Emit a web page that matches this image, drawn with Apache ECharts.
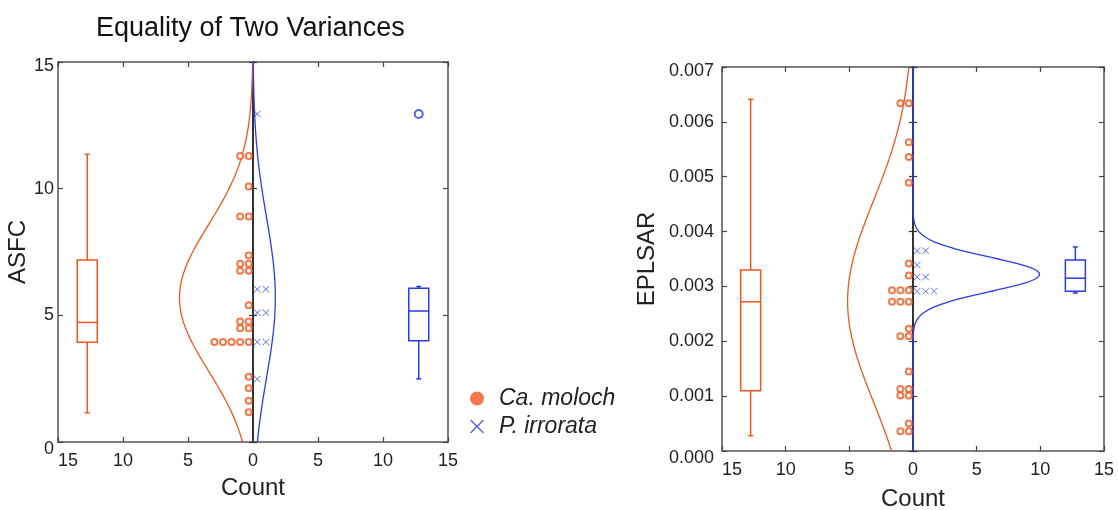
<!DOCTYPE html>
<html><head><meta charset="utf-8">
<script src="https://cdn.jsdelivr.net/npm/echarts@6/dist/echarts.min.js"></script>
<style>html,body{margin:0;padding:0;background:#fff}#c{width:1118px;height:510px}</style>
</head><body><div id="c"></div>
<script>
// ---------------- data ----------------
const seriesNames = ['Ca. moloch', 'P. irrorata'];
const titleText = 'Equality of Two Variances';
const countTicks = [-15, -10, -5, 0, 5, 10, 15];

// ASFC panel
const asfcMoloch = [11.29, 11.29, 10.09, 8.90, 8.90, 7.36, 7.04, 7.04, 6.76, 6.76, 5.40, 4.76, 4.76, 4.49, 4.49,
  3.95, 3.95, 3.95, 3.95, 3.95, 2.58, 2.12, 1.63, 1.17];
const asfcIrrorata = [12.95, 6.03, 6.03, 5.10, 5.10, 3.95, 3.95, 2.49];
// box: [whiskerLow, q1, median, q3, whiskerHigh]
const asfcBoxMoloch = [1.15, 3.94, 4.72, 7.18, 11.36];
const asfcBoxIrrorata = [2.49, 4.00, 5.17, 6.07, 6.14];
const asfcOutliersIrrorata = [12.95];
const asfcTicks = [0, 5, 10, 15];

// EPLSAR panel
const eplsarMoloch = [0.00634, 0.00634, 0.00563, 0.00536, 0.00489, 0.00342, 0.00320, 0.00293, 0.00293, 0.00293,
  0.00272, 0.00272, 0.00272, 0.00223, 0.00209, 0.00209, 0.00145, 0.00113, 0.00113, 0.00101, 0.00101,
  0.00050, 0.00036, 0.00036];
const eplsarIrrorata = [0.00365, 0.00365, 0.00339, 0.00317, 0.00317, 0.00291, 0.00291, 0.00291];
const eplsarBoxMoloch = [0.00028, 0.00110, 0.00272, 0.00330, 0.00641];
const eplsarBoxIrrorata = [0.00288, 0.00291, 0.00315, 0.00348, 0.00372];
const eplsarTicks = [0, 0.001, 0.002, 0.003, 0.004, 0.005, 0.006, 0.007];

// ---------------- style / layout ----------------
const ORANGE = '#F2561E';
const BLUE = '#2B3BEE';
const FONT = "'Liberation Sans', Arial, sans-serif";
const BOX_X = 12.75;         // count position of the box plots
const DOT_FIRST = 0.33, DOT_STEP = 0.66;
const BIN_ASFC = 1.7, BIN_EPLSAR = 0.00098;  // histogram bin widths used for the fitted curves
const XPATH = 'path://M0 0.7L0.7 0L5 4.3L9.3 0L10 0.7L5.7 5L10 9.3L9.3 10L5 5.7L0.7 10L0 9.3L4.3 5Z';

function stack(values, dir) {
  const seen = {};
  return values.map(v => {
    const k = String(v);
    const i = seen[k] || 0;
    seen[k] = i + 1;
    return [dir * (DOT_FIRST + DOT_STEP * i), v];
  });
}
function meanSd(a) {
  const m = a.reduce((s, v) => s + v, 0) / a.length;
  const s = Math.sqrt(a.reduce((t, v) => t + (v - m) * (v - m), 0) / (a.length - 1));
  return [m, s];
}
function normalCurve(values, bin, dir, ymax) {
  const [m, s] = meanSd(values);
  const n = values.length, pts = [], steps = 300;
  for (let i = 0; i <= steps; i++) {
    const y = ymax * i / steps;
    const z = (y - m) / s;
    pts.push([dir * n * bin * Math.exp(-z * z / 2) / (s * Math.sqrt(2 * Math.PI)), y]);
  }
  return pts;
}
function boxRender(color) {
  return function (params, api) {
    const x = api.value(0);
    const lo = api.coord([x, api.value(1)]), q1 = api.coord([x, api.value(2)]),
      md = api.coord([x, api.value(3)]), q3 = api.coord([x, api.value(4)]), hi = api.coord([x, api.value(5)]);
    const cx = lo[0], hw = 10, cap = 2.5;
    const st = { stroke: color, lineWidth: 1.5, fill: null };
    return {
      type: 'group', children: [
        { type: 'line', shape: { x1: cx, y1: hi[1], x2: cx, y2: q3[1] }, style: st },
        { type: 'line', shape: { x1: cx, y1: q1[1], x2: cx, y2: lo[1] }, style: st },
        { type: 'line', shape: { x1: cx - cap, y1: hi[1], x2: cx + cap, y2: hi[1] }, style: st },
        { type: 'line', shape: { x1: cx - cap, y1: lo[1], x2: cx + cap, y2: lo[1] }, style: st },
        { type: 'rect', shape: { x: cx - hw, y: q3[1], width: 2 * hw, height: q1[1] - q3[1] },
          style: { stroke: color, lineWidth: 1.5, fill: '#fff' } },
        { type: 'line', shape: { x1: cx - hw, y1: md[1], x2: cx + hw, y2: md[1] }, style: st }
      ]
    };
  };
}

const axisLine = { lineStyle: { color: '#555', width: 1.5 } };
const tickIn = { show: true, inside: true, length: 5, lineStyle: { color: '#444', width: 1.2 } };
const labelStyle = { fontSize: 18, color: '#222', fontFamily: FONT };
const richEnds = {
  lo: { fontSize: 18, color: '#222', fontFamily: FONT, padding: [14, 0, 0, 0] },
  hi: { fontSize: 18, color: '#222', fontFamily: FONT, padding: [8, 0, 0, 0] }
};

function xAxes(gi, nameGap) {
  return [
    { gridIndex: gi, type: 'value', position: 'bottom', min: countTicks[0], max: countTicks[countTicks.length - 1],
      interval: countTicks[1] - countTicks[0],
      axisLine: Object.assign({ onZero: false }, axisLine), axisTick: tickIn, splitLine: { show: false },
      axisLabel: Object.assign({ margin: 10, alignMinLabel: 'left', formatter: v => String(Math.abs(v)) }, labelStyle),
      name: 'Count', nameLocation: 'middle', nameGap: nameGap,
      nameTextStyle: { fontSize: 24, color: '#222', fontFamily: FONT } },
    { gridIndex: gi, type: 'value', position: 'top', min: countTicks[0], max: countTicks[countTicks.length - 1],
      interval: countTicks[1] - countTicks[0],
      axisLine: Object.assign({ onZero: false }, axisLine), axisTick: tickIn, axisLabel: { show: false },
      splitLine: { show: false } }
  ];
}
function yAxes(gi, ticks, name, nameGap, fmt, margin) {
  const min = ticks[0], max = ticks[ticks.length - 1];
  const base = { gridIndex: gi, type: 'value', min: min, max: max, interval: ticks[1] - ticks[0], splitLine: { show: false } };
  const f = v => {
    const t = fmt(v);
    if (Math.abs(v - min) < 1e-12) return '{lo|' + t + '}';
    if (Math.abs(v - max) < 1e-12) return '{hi|' + t + '}';
    return t;
  };
  return [
    Object.assign({}, base, { position: 'left', axisLine: Object.assign({ onZero: false }, axisLine), axisTick: tickIn,
      axisLabel: Object.assign({ margin: margin, formatter: f, rich: richEnds }, labelStyle),
      name: name, nameLocation: 'middle', nameGap: nameGap,
      nameTextStyle: { fontSize: 24, color: '#222', fontFamily: FONT } }),
    Object.assign({}, base, { position: 'right', axisLine: Object.assign({ onZero: false }, axisLine), axisTick: tickIn,
      axisLabel: { show: false } }),
    Object.assign({}, base, { position: 'left', axisLine: { onZero: true, onZeroAxisIndex: gi * 2, lineStyle: { color: '#333', width: 2 } },
      axisTick: { show: true, inside: true, length: 4, lineStyle: { color: '#333', width: 1.2 } }, axisLabel: { show: false } }),
    Object.assign({}, base, { position: 'left', axisLine: { onZero: true, onZeroAxisIndex: gi * 2, lineStyle: { color: '#333', width: 2 } },
      axisTick: { show: true, inside: false, length: 4, lineStyle: { color: '#333', width: 1.2 } }, axisLabel: { show: false } })
  ];
}

function panelSeries(gi, moloch, irrorata, boxM, boxI, outliers, bin, ymax) {
  const xi = gi * 2, yi = gi * 4;
  const s = [
    { type: 'line', name: 'curveM' + gi, xAxisIndex: xi, yAxisIndex: yi, data: normalCurve(moloch, bin, -1, ymax),
      showSymbol: false, symbol: 'none', lineStyle: { color: ORANGE, width: 1.3 }, z: 3, silent: true },
    { type: 'line', name: 'curveI' + gi, xAxisIndex: xi, yAxisIndex: yi, data: normalCurve(irrorata, bin, 1, ymax),
      showSymbol: false, symbol: 'none', lineStyle: { color: BLUE, width: 1.3 }, z: 3, silent: true },
    { type: 'scatter', name: seriesNames[0], xAxisIndex: xi, yAxisIndex: yi, data: stack(moloch, -1),
      symbol: 'emptyCircle', symbolSize: 6, itemStyle: { color: ORANGE, borderWidth: 1.3 }, z: 4 },
    { type: 'scatter', name: seriesNames[1], xAxisIndex: xi, yAxisIndex: yi, data: stack(irrorata, 1),
      symbol: XPATH, symbolSize: 7, itemStyle: { color: BLUE }, z: 4 },
    { type: 'custom', name: 'boxM' + gi, xAxisIndex: xi, yAxisIndex: yi, renderItem: boxRender(ORANGE),
      data: [[-BOX_X].concat(boxM)], encode: { x: 0, y: [1, 2, 3, 4, 5] }, z: 4, silent: true },
    { type: 'custom', name: 'boxI' + gi, xAxisIndex: xi, yAxisIndex: yi, renderItem: boxRender(BLUE),
      data: [[BOX_X].concat(boxI)], encode: { x: 0, y: [1, 2, 3, 4, 5] }, z: 4, silent: true }
  ];
  if (outliers.length) {
    s.push({ type: 'scatter', name: 'outI' + gi, xAxisIndex: xi, yAxisIndex: yi,
      data: outliers.map(v => [BOX_X, v]), symbol: 'emptyCircle', symbolSize: 8,
      itemStyle: { color: BLUE, borderWidth: 1.5 }, z: 4, silent: true });
  }
  return s;
}

const chart = echarts.init(document.getElementById('c'), null, { renderer: 'canvas' });
chart.setOption({
  animation: false,
  backgroundColor: '#fff',
  textStyle: { fontFamily: FONT },
  title: { text: titleText, left: 91, top: 10,
    textStyle: { fontSize: 27, fontWeight: 'normal', color: '#111', fontFamily: FONT } },
  legend: {
    left: 465, top: 382, orient: 'vertical', itemGap: 5, itemWidth: 34, itemHeight: 14, selectedMode: false,
    textStyle: { fontSize: 23, fontStyle: 'italic', color: '#222', fontFamily: FONT },
    data: [
      { name: seriesNames[0], icon: 'circle', itemStyle: { color: ORANGE, borderWidth: 0 } },
      { name: seriesNames[1], icon: XPATH, itemStyle: { color: BLUE, borderWidth: 0 } }
    ]
  },
  grid: [
    { left: 58, top: 62, width: 390, height: 380, outerBoundsMode: 'none', containLabel: false },
    { left: 722, top: 67, width: 382, height: 384, outerBoundsMode: 'none', containLabel: false }
  ],
  xAxis: xAxes(0, 34).concat(xAxes(1, 36)),
  yAxis: yAxes(0, asfcTicks, 'ASFC', 15, v => String(v), 4)
    .concat(yAxes(1, eplsarTicks, 'EPLSAR', 63, v => v.toFixed(3), 8)),
  series: panelSeries(0, asfcMoloch, asfcIrrorata, asfcBoxMoloch, asfcBoxIrrorata, asfcOutliersIrrorata, BIN_ASFC, 15)
    .concat(panelSeries(1, eplsarMoloch, eplsarIrrorata, eplsarBoxMoloch, eplsarBoxIrrorata, [], BIN_EPLSAR, 0.007))
});
</script>
</body></html>
